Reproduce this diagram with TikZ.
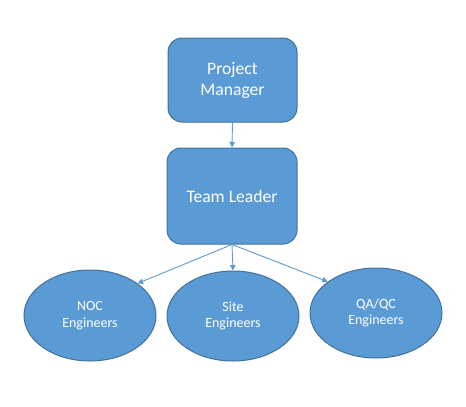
\documentclass[tikz,border=0pt]{standalone}
\usepackage{fontspec}
\setmainfont{Carlito}
\usetikzlibrary{shapes.geometric,arrows.meta}
\definecolor{offblue}{HTML}{5B9BD5}
\definecolor{offborder}{HTML}{41719C}
\tikzset{
  rbox/.style={draw=offborder, fill=offblue, line width=1pt, rounded corners=14pt,
    text=white, align=center, font=\fontsize{17.6}{21}\selectfont, inner sep=0pt},
  ell/.style={ellipse, draw=offborder, fill=offblue, line width=1pt,
    text=white, align=center, font=\fontsize{14}{16.5}\selectfont, inner sep=0pt},
  conn/.style={draw=offblue, line width=0.9pt, -{Triangle[width=5.5pt,length=5.5pt]}}
}
\begin{document}
\begin{tikzpicture}[x=1pt,y=-1pt]
\useasboundingbox (0,0) rectangle (466,407);
\node[rbox, minimum width=129pt, minimum height=84pt] (pm) at (232.5,80) {Project\\Manager};
\node[rbox, minimum width=130pt, minimum height=96pt] (tl) at (232,196) {Team Leader};
\node[ell, minimum width=132pt, minimum height=91pt] (noc) at (90,315.5) {NOC\\Engineers};
\node[ell, minimum width=132pt, minimum height=90pt] (site) at (233,316) {Site\\Engineers};
\node[ell, minimum width=132pt, minimum height=90pt] (qa) at (376,313) {QA/QC\\Engineers};
\draw[conn] (pm.south) -- (tl.north);
\draw[conn] (tl.south) -- (noc.34);
\draw[conn] (tl.south) -- (site.north);
\draw[conn] (tl.south) -- (qa.147);
\end{tikzpicture}
\end{document}
